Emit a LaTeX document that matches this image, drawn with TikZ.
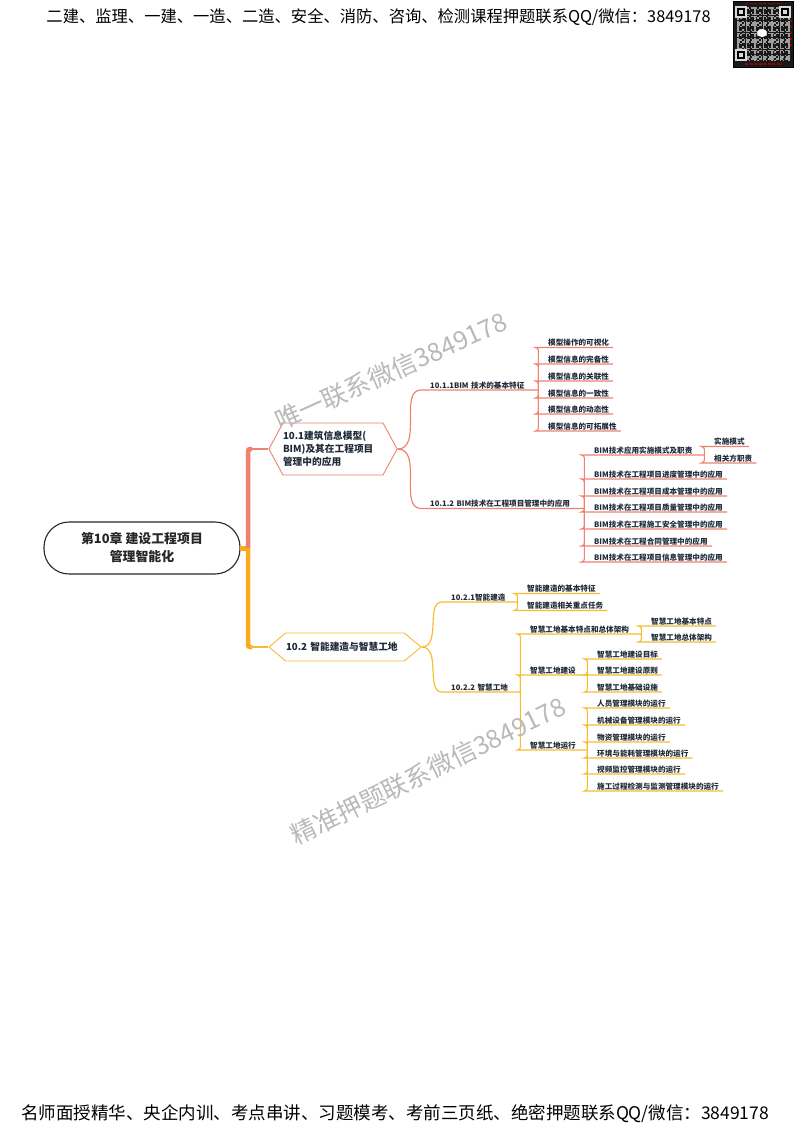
\documentclass[tikz,border=0pt]{standalone}
\usepackage{fontspec}
\setmainfont{Noto Sans CJK SC}
\usetikzlibrary{shapes.symbols}
\definecolor{redline}{HTML}{F0806F}
\definecolor{yellowline}{HTML}{F6BC2E}
\definecolor{inktext}{HTML}{1F2A38}
\begin{document}
\begin{tikzpicture}[x=1pt,y=-1pt,
	redbranch/.style={draw=redline,line width=1.15pt,rounded corners=3pt},
	yellowbranch/.style={draw=yellowline,line width=1.15pt,rounded corners=3pt},
	item/.style={anchor=south west,inner sep=0pt,text=inktext,font=\fontsize{7.6}{9}\selectfont\bfseries,text height=6.4pt,text depth=.6pt,inner ysep=.8pt,execute at begin node={\hspace*{#1pt}}},
	item/.default=10,
	leaf/.style={item,execute at end node={\hspace*{4pt}}},
	hexa/.style={signal,signal to=east and west,draw=#1,line width=.9pt,inner sep=0pt,text=inktext,font=\fontsize{9.7}{13}\selectfont\bfseries,align=left},
	banner/.style={inner sep=0pt,text=black,font=\fontsize{#1}{#1}\selectfont},
	markword/.style={inner sep=0pt,text=gray!55,font=\fontsize{25.4}{26}\selectfont}
]
	\useasboundingbox (0,0) rectangle (800,1130);

	\node[banner=16.3] (header) at (378.5,17.5) {二建、监理、一建、一造、二造、安全、消防、咨询、检测课程押题联系QQ/微信：3849178};
	\node[banner=17.5] (footer) at (395,1113.5) {名师面授精华、央企内训、考点串讲、习题模考、考前三页纸、绝密押题联系QQ/微信：3849178};

	\filldraw[fill=black!90,draw=black] (733,1) rectangle (793,67);
	\foreach \i in {0,...,30}{
		\foreach \j in {0,...,31}{
			\pgfmathtruncatemacro{\cell}{mod(\i*\i*3+\j*\j*5+\i*\j+\i*3,5)}
			\ifnum\cell<2
				\fill[gray!75] ({737+\i*1.7},{7+\j*1.7}) rectangle ++(1.5,1.5);
			\fi
		}
	}
	\foreach \coord in {(736,7),(780,7),(736,50)}{
		\filldraw[fill=black,draw=white!85!black,line width=1.1pt] \coord rectangle ++(10,10);
		\fill[white!85!black] \coord ++(3,3) rectangle ++(4,4);
	}
	\fill[white] (762,33) ellipse (5 and 4);
	\draw[red!60!black,line width=1.2pt,dash pattern=on 3pt off 1.5pt] (745,3.5) -- (782,3.5);
	\draw[red!60!black,line width=1.2pt,dash pattern=on 3pt off 1.5pt] (745,64) -- (782,64);
	\draw[red!60!black,line width=1.2pt,dash pattern=on 2pt off 4pt] (791,20) -- (791,50);

	\node[draw=black!85,line width=1.1pt,rounded corners=25pt,minimum width=196pt,minimum height=52pt,inner sep=0pt,align=center,text=black!85,font=\fontsize{12.9}{18}\selectfont\bfseries] (root) at (142,548) {第10章 建设工程项目\\管理智能化};

	\node[hexa=redline,minimum width=128pt,minimum height=52pt,signal pointer angle=123,text width=100pt] (secone) at (333,449) {10.1建筑信息模型(\\BIM)及其在工程项目\\管理中的应用};
	\node[hexa=yellowline,minimum width=152pt,minimum height=28pt,signal pointer angle=80,text width=118pt] (sectwo) at (345,647) {10.2 智能建造与智慧工地};

	\fill[yellowline!70!orange] (240,545.5) rectangle (248,550.5);
	\draw[redline,line width=4.5pt,rounded corners=2pt] (248,548) -- (248,449) -- (252,449);
	\draw[redline,line width=1.2pt] (250,449) -- (secone.west);
	\draw[yellowline!70!orange,line width=4.5pt,rounded corners=2pt] (248,548) -- (248,647) -- (252,647);
	\draw[yellowline,line width=1.2pt] (250,647) -- (sectwo.west);

	\node[item=6,text width=114pt] (bimfeat) at (424,390) {10.1.1BIM 技术的基本特征};
	\node[item=6,text width=160pt] (bimuse) at (424,508.5) {10.1.2 BIM技术在工程项目管理中的应用};
	\draw[redbranch] (secone.east) to[out=0,in=180] (bimfeat.south west) -- (bimfeat.south east);
	\draw[redbranch] (secone.east) to[out=0,in=180] (bimuse.south west) -- (bimuse.south east);

	\foreach \name/\y/\label in {fa/347.5/模型操作的可视化,fb/364/模型信息的完备性,fc/381/模型信息的关联性,fd/398/模型信息的一致性,fe/414/模型信息的动态性,ff/431/模型信息的可拓展性}{
		\node[leaf] (\name) at (538,\y) {\label};
		\draw[redbranch] (bimfeat.south east) |- (\name.south west) -- (\name.south east);
	}

	\node[item,text width=120pt] (bimmode) at (584,455) {BIM技术应用实施模式及职责};
	\draw[redbranch] (bimuse.south east) |- (bimmode.south west) -- (bimmode.south east);
	\foreach \name/\y/\label in {ua/479/BIM技术在工程项目进度管理中的应用,ub/496/BIM技术在工程项目成本管理中的应用,uc/512/BIM技术在工程项目质量管理中的应用,ud/529/BIM技术在工程施工安全管理中的应用,ue/546/BIM技术在工程合同管理中的应用,uf/562/BIM技术在工程项目信息管理中的应用}{
		\node[leaf] (\name) at (584,\y) {\label};
		\draw[redbranch] (bimuse.south east) |- (\name.south west) -- (\name.south east);
	}
	\foreach \name/\y/\label in {ma/446.5/实施模式,mb/463/相关方职责}{
		\node[leaf] (\name) at (704,\y) {\label};
		\draw[redbranch] (bimmode.south east) |- (\name.south west) -- (\name.south east);
	}

	\node[item=6,text width=72pt] (smartbuild) at (445,602) {10.2.1智能建造};
	\node[item=6,text width=75pt] (smartsite) at (445,692) {10.2.2 智慧工地};
	\draw[yellowbranch] (sectwo.east) to[out=0,in=180] (smartbuild.south west) -- (smartbuild.south east);
	\draw[yellowbranch] (sectwo.east) to[out=0,in=180] (smartsite.south west) -- (smartsite.south east);

	\foreach \name/\y/\label in {ba/593.5/智能建造的基本特征,bb/610.5/智能建造相关重点任务}{
		\node[leaf] (\name) at (517,\y) {\label};
		\draw[yellowbranch] (smartbuild.south east) |- (\name.south west) -- (\name.south east);
	}

	\node[item,text width=121pt] (sitearch) at (520,634) {智慧工地基本特点和总体架构};
	\node[item,text width=67pt] (sitebuild) at (520,675) {智慧工地建设};
	\node[item,text width=67pt] (siterun) at (520,750) {智慧工地运行};
	\foreach \name in {sitearch,sitebuild,siterun}{
		\draw[yellowbranch] (smartsite.south east) |- (\name.south west) -- (\name.south east);
	}
	\foreach \name/\y/\label in {aa/626/智慧工地基本特点,ab/642/智慧工地总体架构}{
		\node[leaf] (\name) at (641,\y) {\label};
		\draw[yellowbranch] (sitearch.south east) |- (\name.south west) -- (\name.south east);
	}
	\foreach \name/\y/\label in {ca/659/智慧工地建设目标,cb/675/智慧工地建设原则,cc/692/智慧工地基础设施}{
		\node[leaf] (\name) at (587,\y) {\label};
		\draw[yellowbranch] (sitebuild.south east) |- (\name.south west) -- (\name.south east);
	}
	\foreach \name/\y/\label in {ra/708/人员管理模块的运行,rb/725/机械设备管理模块的运行,rc/742/物资管理模块的运行,rd/758/环境与能耗管理模块的运行,re/774/视频监控管理模块的运行,rf/791/施工过程检测与监测管理模块的运行}{
		\node[leaf] (\name) at (587,\y) {\label};
		\draw[yellowbranch] (siterun.south east) |- (\name.south west) -- (\name.south east);
	}

	\node[markword,rotate=24] (markone) at (391,371) {唯一联系微信3849178};
	\node[markword,rotate=26] (marktwo) at (428,771) {精准押题联系微信3849178};
\end{tikzpicture}
\end{document}
